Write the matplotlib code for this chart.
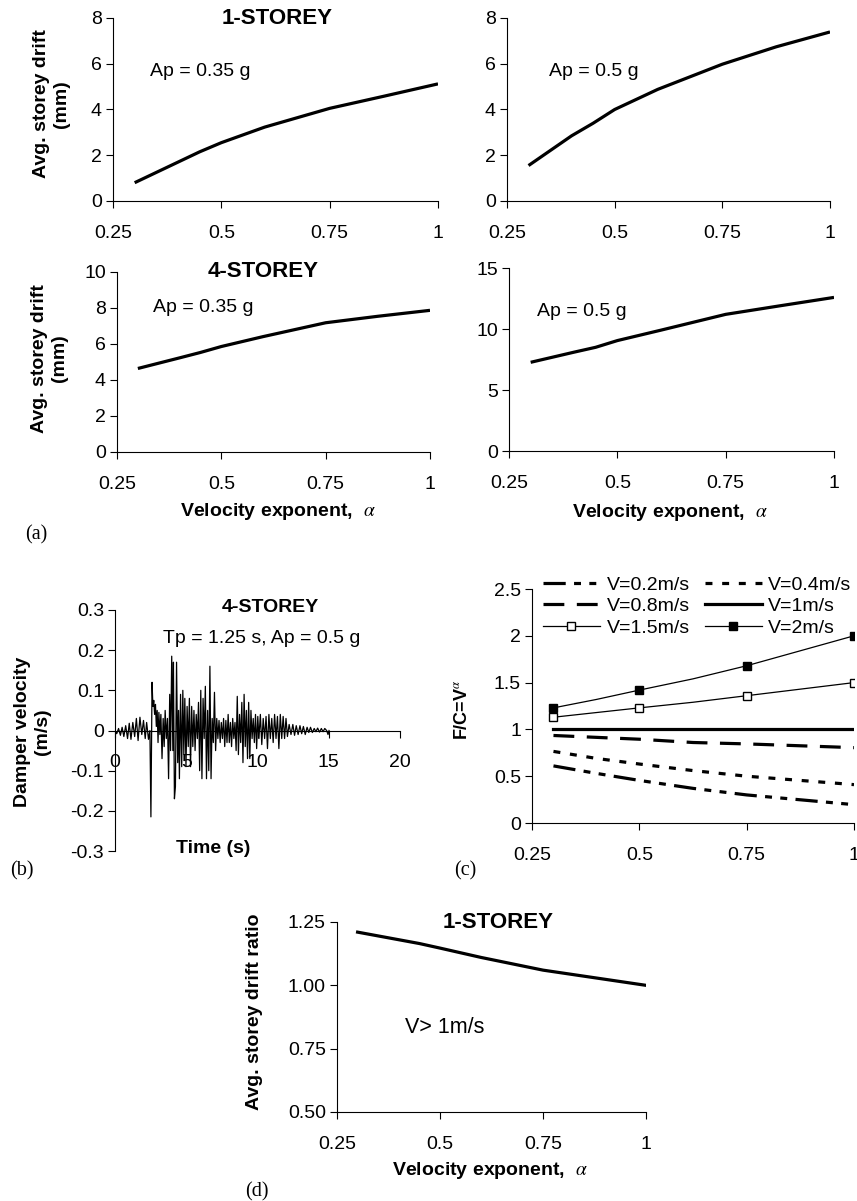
import matplotlib
matplotlib.use("Agg")
import matplotlib.pyplot as plt
from matplotlib.ticker import FormatStrFormatter

plt.rcParams["font.family"] = ["Liberation Sans", "DejaVu Sans"]
plt.rcParams["mathtext.fontset"] = "stix"
plt.rcParams["axes.unicode_minus"] = False
plt.rcParams["lines.scale_dashes"] = False
plt.rcParams["axes.linewidth"] = 0.8

# (a) average storey drift (mm) vs velocity exponent
alpha_a = [0.3, 0.4, 0.45, 0.5, 0.6, 0.75, 0.875, 1.0]
drift_1st_035 = [0.80, 1.70, 2.15, 2.55, 3.23, 4.05, 4.58, 5.12]
drift_1st_05 = [1.55, 2.85, 3.40, 4.00, 4.88, 5.98, 6.74, 7.39]
drift_4st_035 = [4.64, 5.23, 5.53, 5.86, 6.41, 7.18, 7.54, 7.87]
drift_4st_05 = [7.27, 8.10, 8.50, 9.05, 9.90, 11.20, 11.90, 12.59]

alpha_ticks = [0.25, 0.5, 0.75, 1.0]
alpha_ticklabels = ["0.25", "0.5", "0.75", "1"]

# (b) damper velocity time history (s, m/s), 4-storey, Tp = 1.25 s, Ap = 0.5 g
trace_b = [
    (0.0, 0.0), (0.12, -0.008), (0.25, 0.005), (0.38, -0.012), (0.5, 0.008),
    (0.62, -0.015), (0.75, 0.012), (0.88, -0.02), (1.0, 0.018), (1.12, -0.022),
    (1.25, 0.02), (1.38, -0.015), (1.5, 0.03), (1.62, -0.025), (1.75, 0.033),
    (1.88, -0.01), (2.0, 0.025), (2.12, -0.02), (2.22, 0.02), (2.35, -0.022),
    (2.45, 0.0), (2.52, -0.215), (2.6, 0.12), (2.66, 0.06), (2.72, 0.075),
    (2.78, 0.04), (2.84, 0.065), (2.9, 0.01), (2.96, 0.05), (3.02, -0.03),
    (3.08, 0.045), (3.15, -0.01), (3.22, 0.04), (3.3, -0.07), (3.38, 0.03),
    (3.45, -0.04), (3.52, 0.05), (3.6, -0.02), (3.68, 0.03), (3.76, -0.12),
    (3.84, 0.09), (3.9, -0.05), (3.98, 0.185), (4.06, -0.05), (4.1, 0.17),
    (4.17, -0.17), (4.24, -0.14), (4.32, 0.17), (4.4, -0.08), (4.46, 0.05),
    (4.52, -0.12), (4.6, 0.09), (4.68, -0.09), (4.76, 0.1), (4.83, -0.06),
    (4.9, 0.08), (4.98, -0.09), (5.06, 0.06), (5.14, -0.04), (5.22, 0.08),
    (5.3, -0.09), (5.38, 0.06), (5.46, -0.04), (5.54, 0.05), (5.62, -0.05),
    (5.7, 0.04), (5.78, -0.02), (5.86, 0.07), (5.94, -0.1), (6.02, 0.1),
    (6.1, -0.12), (6.18, 0.08), (6.26, -0.02), (6.34, 0.11), (6.42, -0.12),
    (6.5, 0.05), (6.58, -0.1), (6.66, 0.16), (6.74, -0.12), (6.82, 0.03),
    (6.9, -0.03), (6.98, 0.095), (7.06, -0.05), (7.14, 0.03), (7.22, -0.02),
    (7.3, 0.025), (7.38, -0.03), (7.46, 0.02), (7.54, -0.02), (7.62, 0.03),
    (7.7, -0.04), (7.78, 0.025), (7.86, -0.03), (7.94, 0.04), (8.02, -0.03),
    (8.1, 0.02), (8.18, -0.04), (8.26, 0.03), (8.34, -0.02), (8.42, 0.02),
    (8.5, -0.05), (8.58, 0.085), (8.66, -0.06), (8.74, 0.04), (8.82, -0.03),
    (8.9, 0.07), (8.98, -0.08), (9.06, 0.09), (9.14, -0.04), (9.22, 0.05),
    (9.3, -0.07), (9.38, 0.07), (9.46, -0.07), (9.54, 0.05), (9.62, -0.02),
    (9.7, 0.03), (9.78, -0.03), (9.86, 0.04), (9.94, -0.045), (10.02, 0.035),
    (10.1, -0.02), (10.2, 0.04), (10.3, -0.035), (10.4, 0.03), (10.5, -0.02),
    (10.6, 0.035), (10.7, -0.045), (10.8, 0.04), (10.9, -0.02), (11.0, 0.03),
    (11.1, -0.03), (11.2, 0.04), (11.3, -0.02), (11.4, 0.035), (11.5, -0.045),
    (11.6, 0.04), (11.7, -0.02), (11.8, 0.035), (11.9, -0.02), (12.0, 0.03),
    (12.1, -0.015), (12.22, 0.015), (12.35, -0.01), (12.48, 0.015),
    (12.6, -0.012), (12.72, 0.012), (12.85, -0.01), (12.98, 0.012),
    (13.1, -0.008), (13.22, 0.01), (13.35, -0.01), (13.48, 0.008),
    (13.6, -0.005), (13.72, 0.008), (13.85, -0.005), (13.98, 0.005),
    (14.1, -0.003), (14.22, 0.006), (14.35, -0.004), (14.48, 0.005),
    (14.6, -0.003), (14.72, 0.005), (14.85, 0.0), (14.95, -0.01), (15.02, 0.0),
]
time_b = [t for t, _ in trace_b]
vel_b = [v for _, v in trace_b]

# (c) F/C = V^alpha for several damper velocities
alpha_c = [0.3, 0.4, 0.5, 0.625, 0.75, 1.0]
fc_v02 = [0.61, 0.53, 0.455, 0.37, 0.30, 0.196]
fc_v04 = [0.765, 0.69, 0.63, 0.56, 0.50, 0.41]
fc_v08 = [0.935, 0.915, 0.895, 0.86, 0.845, 0.805]
fc_v1 = [1.0, 1.0, 1.0, 1.0, 1.0, 1.0]
fc_v15 = [1.13, 1.18, 1.23, 1.29, 1.36, 1.50]
fc_v2 = [1.23, 1.32, 1.42, 1.54, 1.68, 2.0]
marker_idx = [0, 2, 4, 5]

# (d) drift ratio, 1-storey, V > 1 m/s
alpha_d = [0.3, 0.4, 0.45, 0.5, 0.6, 0.75, 0.875, 1.0]
ratio_d = [1.21, 1.18, 1.165, 1.147, 1.11, 1.06, 1.03, 1.0]

W, H = 857, 1201
fig = plt.figure(figsize=(W / 100, H / 100), dpi=100)


def px_axes(left, top, right, bottom):
    """Add axes from pixel box (origin top-left)."""
    return fig.add_axes([left / W, 1 - bottom / H, (right - left) / W, (bottom - top) / H])


def style(ax):
    for side in ("top", "right"):
        ax.spines[side].set_visible(False)
    ax.tick_params(direction="out", length=5, width=0.8, labelsize=14)
    ax.tick_params(axis="x", pad=12)
    ax.tick_params(axis="y", pad=3)


def alpha_axis(ax):
    ax.set_xlim(0.25, 1.0)
    ax.set_xticks(alpha_ticks)
    ax.set_xticklabels(alpha_ticklabels)


xlab = "Velocity exponent,  $\\alpha$"
ylab_a = "Avg. storey drift\n(mm)"
bold = dict(fontweight="bold")

# ---- (a) ----
panels_a = [
    ((113, 18, 438, 201), drift_1st_035, 8, 2, "Ap = 0.35 g", (0.114, 0.705), "1-STOREY", 0.505),
    ((507, 18, 830, 201), drift_1st_05, 8, 2, "Ap = 0.5 g", (0.131, 0.705), None, None),
    ((117, 272, 430, 452), drift_4st_035, 10, 2, "Ap = 0.35 g", (0.115, 0.80), "4-STOREY", 0.466),
    ((509, 268, 834, 451), drift_4st_05, 15, 5, "Ap = 0.5 g", (0.085, 0.762), None, None),
]
axes_a = []
for box, ydata, ymax, ystep, note, note_xy, title, title_x in panels_a:
    ax = px_axes(*box)
    style(ax)
    ax.plot(alpha_a, ydata, color="black", lw=2.3, solid_capstyle="butt")
    alpha_axis(ax)
    ax.set_ylim(0, ymax)
    ax.set_yticks(list(range(0, ymax + 1, ystep)))
    ax.text(note_xy[0], note_xy[1], note, transform=ax.transAxes, fontsize=14,
            ha="left", va="center")
    if title:
        ax.text(title_x, 1.0, title, transform=ax.transAxes, fontsize=16,
                ha="center", va="center", **bold)
    axes_a.append(ax)

for ax, xcoord, ycoord in ((axes_a[0], -0.19, 0.53), (axes_a[2], -0.216, 0.52)):
    ax.set_ylabel(ylab_a, fontsize=14, va="center", multialignment="center", **bold)
    ax.yaxis.set_label_coords(xcoord, ycoord)

axes_a[2].set_xlabel(xlab, fontsize=14, va="center", **bold)
axes_a[2].xaxis.set_label_coords(0.514, -0.333)
axes_a[3].set_xlabel(xlab, fontsize=14, va="center", **bold)
axes_a[3].xaxis.set_label_coords(0.495, -0.336)

# ---- (b) ----
axb = px_axes(115, 610, 400, 851)
style(axb)
axb.plot(time_b, vel_b, color="black", lw=0.9)
axb.set_xlim(0, 20)
axb.set_ylim(-0.3, 0.3)
axb.set_xticks([0, 5, 10, 15, 20])
axb.set_yticks([-0.3, -0.2, -0.1, 0, 0.1, 0.2, 0.3])
axb.yaxis.set_major_formatter(FormatStrFormatter("%g"))
axb.spines["bottom"].set_position(("data", 0))
axb.text(0.544, 1.012, "4-STOREY", transform=axb.transAxes, fontsize=14,
         ha="center", va="center", **bold)
axb.text(0.516, 0.88, "Tp = 1.25 s, Ap = 0.5 g", transform=axb.transAxes,
         fontsize=14, ha="center", va="center")
axb.set_xlabel("Time (s)", fontsize=14, va="center", **bold)
axb.xaxis.set_label_coords(0.344, 0.011)
axb.set_ylabel("Damper velocity\n(m/s)", fontsize=14, va="center",
               multialignment="center", **bold)
axb.yaxis.set_label_coords(-0.289, 0.493)

# ---- (c) ----
axc = px_axes(532, 589, 854, 823)
style(axc)
l02, = axc.plot(alpha_c, fc_v02, color="black", lw=2.3, dashes=(16, 6, 5, 6, 5, 6),
                label="V=0.2m/s")
l04, = axc.plot(alpha_c, fc_v04, color="black", lw=2.3, dashes=(5, 7),
                label="V=0.4m/s")
l08, = axc.plot(alpha_c, fc_v08, color="black", lw=2.3, dashes=(15, 9),
                label="V=0.8m/s")
l1, = axc.plot(alpha_c, fc_v1, color="black", lw=2.3, label="V=1m/s")
l15, = axc.plot(alpha_c, fc_v15, color="black", lw=0.9, marker="s", markersize=6,
                markerfacecolor="white", markeredgecolor="black",
                markevery=marker_idx, label="V=1.5m/s")
l2, = axc.plot(alpha_c, fc_v2, color="black", lw=0.9, marker="s", markersize=6,
               markerfacecolor="black", markevery=marker_idx, label="V=2m/s")
alpha_axis(axc)
axc.set_ylim(0, 2.5)
axc.set_yticks([0, 0.5, 1, 1.5, 2, 2.5])
axc.yaxis.set_major_formatter(FormatStrFormatter("%g"))
axc.set_ylabel("F/C=V$^{\\alpha}$", fontsize=13, va="center", **bold)
axc.yaxis.set_label_coords(-0.216, 0.483)
axc.legend(handles=[l02, l08, l15, l04, l1, l2], ncol=2, loc="upper left",
           bbox_to_anchor=(0.035, 1.055), frameon=False, fontsize=14,
           handlelength=2.9, handletextpad=0.35, columnspacing=0.8,
           labelspacing=0.2, borderpad=0, borderaxespad=0)

# ---- (d) ----
axd = px_axes(337, 922, 646, 1112)
style(axd)
axd.plot(alpha_d, ratio_d, color="black", lw=2.3)
alpha_axis(axd)
axd.set_ylim(0.5, 1.25)
axd.set_yticks([0.5, 0.75, 1.0, 1.25])
axd.yaxis.set_major_formatter(FormatStrFormatter("%.2f"))
axd.text(0.52, 0.996, "1-STOREY", transform=axd.transAxes, fontsize=16,
         ha="center", va="center", **bold)
axd.text(0.219, 0.447, "V> 1m/s", transform=axd.transAxes, fontsize=15.5,
         ha="left", va="center")
axd.set_ylabel("Avg. storey drift ratio", fontsize=14, va="center", **bold)
axd.yaxis.set_label_coords(-0.267, 0.528)
axd.set_xlabel(xlab, fontsize=14, va="center", **bold)
axd.xaxis.set_label_coords(0.495, -0.308)

# panel letters
serif = ["Liberation Serif", "DejaVu Serif"]
for letter, x, y in (("(a)", 36, 535), ("(b)", 22, 871), ("(c)", 465, 871), ("(d)", 257, 1192)):
    fig.text(x / W, 1 - y / H, letter, family=serif, fontsize=14.5, ha="center", va="center")

fig.savefig("out.png", dpi=100)
